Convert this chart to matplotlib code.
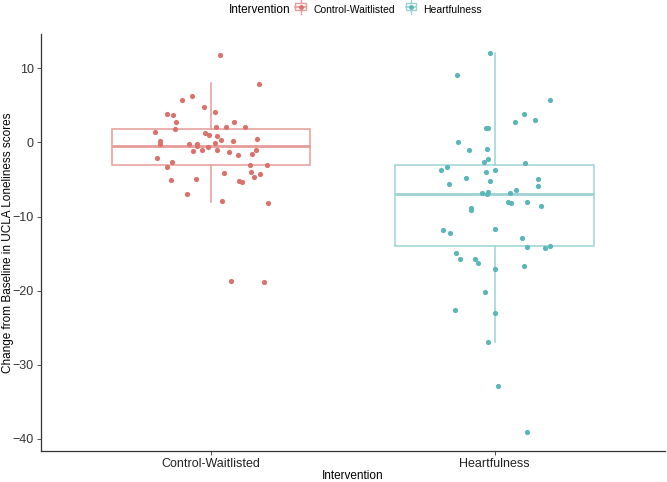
import numpy as np
import matplotlib
matplotlib.use("Agg")
import matplotlib.pyplot as plt
from matplotlib.lines import Line2D
from matplotlib.patches import Rectangle
from matplotlib.legend_handler import HandlerBase

plt.rcParams["font.family"] = ["Liberation Sans", "DejaVu Sans"]

groups = ["Control-Waitlisted", "Heartfulness"]

# change scores (as plotted, jittered) and horizontal jitter
control_y = [11.8, 7.85, 6.28, 5.78, 4.84, 3.81, 3.68, 4.08, 2.78, 2.78,
             1.75, 2.02, 2.11, 2.07, 1.34, 1.26, 1.03, 0.90, 0.32, 0.19,
             0.40, 0.13, -0.17, -0.27, -0.17, -0.54, -0.04, -0.67, -0.98, -1.16,
             -1.02, -1.34, -1.02, -1.75, -1.56, -2.06, -2.59, -3.27, -3.04, -3.09,
             -4.16, -4.03, -4.61, -4.21, -5.06, -4.97, -5.24, -5.28, -6.94, -7.93,
             -8.15, -18.68, -18.86]
control_dx = [0.032, 0.169, -0.067, -0.101, -0.025, -0.154, -0.133, 0.014, -0.122, 0.081,
              -0.127, 0.018, 0.054, 0.120, -0.197, -0.021, -0.007, 0.021, 0.035, 0.077,
              0.164, -0.180, -0.178, -0.079, -0.048, -0.050, 0.014, -0.011, -0.031, -0.063,
              0.021, 0.062, 0.160, 0.095, 0.146, -0.189, -0.138, -0.154, 0.136, 0.196,
              0.045, 0.141, 0.151, 0.174, -0.141, -0.054, 0.099, 0.110, -0.083, 0.038,
              0.200, 0.069, 0.187]

heart_y = [12.06, 9.06, 5.78, 3.86, 3.05, 2.78, 1.88, 1.98, 0.0, -0.98,
           -0.94, -2.23, -2.63, -2.73, -3.67, -3.36, -3.71, -4.03, -4.74, -4.92,
           -5.65, -5.24, -5.82, -6.36, -6.76, -6.67, -6.94, -6.85, -8.01, -8.24,
           -8.06, -8.64, -8.82, -9.18, -11.77, -12.18, -11.69, -12.94, -14.15, -14.29,
           -13.93, -14.96, -15.72, -15.67, -16.26, -17.11, -16.67, -20.16, -22.58, -23.02,
           -26.88, -32.84, -39.02]
heart_dx = [-0.017, -0.134, 0.194, 0.102, 0.143, 0.070, -0.031, -0.025, -0.129, -0.089,
            -0.028, -0.025, -0.039, 0.108, -0.190, -0.167, 0.0, -0.032, -0.102, 0.154,
            -0.162, -0.015, 0.154, 0.074, -0.045, -0.024, -0.028, 0.054, 0.047, 0.056,
            0.115, 0.164, -0.083, -0.082, -0.181, -0.157, 0.002, 0.095, 0.112, 0.176,
            0.193, -0.136, -0.122, -0.070, -0.059, 0.001, 0.103, -0.035, -0.141, 0.001,
            -0.025, 0.010, 0.112]

# box summaries: whisker low, Q1, median, Q3, whisker high
box_stats = {
    "Control-Waitlisted": [-8.0, -3.0, -0.5, 1.8, 8.0],
    "Heartfulness": [-27.0, -14.0, -7.0, -3.0, 12.0],
}

point_col = {"Control-Waitlisted": "#D9716C", "Heartfulness": "#5AB6B9"}
box_col = {"Control-Waitlisted": "#E49D99", "Heartfulness": "#9CD2D4"}

fig = plt.figure(figsize=(6.67, 4.82), dpi=100)
ax = fig.add_axes([0.061, 0.065, 0.936, 0.864])

for i, g in enumerate(groups, start=1):
    lo, q1, med, q3, hi = box_stats[g]
    stats = [dict(whislo=lo, q1=q1, med=med, q3=q3, whishi=hi, fliers=[])]
    ax.bxp(stats, positions=[i], widths=0.7, showcaps=False, patch_artist=True,
           boxprops=dict(facecolor="none", edgecolor=box_col[g], linewidth=1.1),
           whiskerprops=dict(color=box_col[g], linewidth=1.1),
           medianprops=dict(color=box_col[g], linewidth=2.0))

ax.scatter(1 + np.array(control_dx), control_y, s=14, color=point_col[groups[0]],
           linewidths=0, zorder=3)
ax.scatter(2 + np.array(heart_dx), heart_y, s=14, color=point_col[groups[1]],
           linewidths=0, zorder=3)

ax.set_xlim(0.4, 2.6)
ax.set_ylim(-41.6, 14.6)
ax.set_xticks([1, 2])
ax.set_xticklabels(groups, fontsize=9, color="#222222")
ax.set_yticks([10, 0, -10, -20, -30, -40])
ax.set_yticklabels(["10", "0", "\u221210", "\u221220", "\u221230", "\u221240"],
                   fontsize=9, color="#333333")
ax.tick_params(length=3, width=0.6, color="#333333", pad=2)
for s in ("top", "right"):
    ax.spines[s].set_visible(False)
for s in ("left", "bottom"):
    ax.spines[s].set_linewidth(0.9)
    ax.spines[s].set_color("#333333")
ax.set_xlabel("Intervention", fontsize=8.5)
ax.xaxis.set_label_coords(0.5, -0.046)
ax.set_ylabel("Change from Baseline in UCLA Loneliness scores", fontsize=8.5)
ax.yaxis.set_label_coords(-0.052, 0.5)
ax.yaxis.label.set_va("center")


class BoxKey(HandlerBase):
    def create_artists(self, legend, orig, xd, yd, w, h, fs, trans):
        c = orig.get_color()
        cx = xd + w / 2
        cy = yd + h / 2
        bw = w * 0.8
        bh = h * 0.7
        r = Rectangle((cx - bw / 2, cy - bh / 2), bw, bh, fill=False,
                      edgecolor=c, linewidth=1.0, transform=trans)
        m = Line2D([cx - bw / 2, cx + bw / 2], [cy, cy], color=c, lw=1.2, transform=trans)
        wt = Line2D([cx, cx], [cy + bh / 2, cy + h * 0.7], color=c, lw=1.0, transform=trans)
        wb = Line2D([cx, cx], [cy - bh / 2, cy - h * 0.7], color=c, lw=1.0, transform=trans)
        p = Line2D([cx], [cy], marker="o", ms=2.5, color=orig.get_markerfacecolor(),
                   lw=0, transform=trans)
        return [r, m, wt, wb, p]


handles = [Line2D([], [], color=box_col[g], markerfacecolor=point_col[g]) for g in groups]
fig.legend(handles, groups, handler_map={Line2D: BoxKey()}, loc="center left",
           bbox_to_anchor=(294 / 667, 1 - 10 / 482), ncol=2, frameon=False, fontsize=7.5,
           handlelength=1.3, handleheight=1.1, handletextpad=0.55, columnspacing=0.9,
           borderaxespad=0, borderpad=0)
fig.text(290 / 667, 1 - 10 / 482, "Intervention", fontsize=8.5, ha="right", va="center")

fig.savefig("out.png", dpi=100)
